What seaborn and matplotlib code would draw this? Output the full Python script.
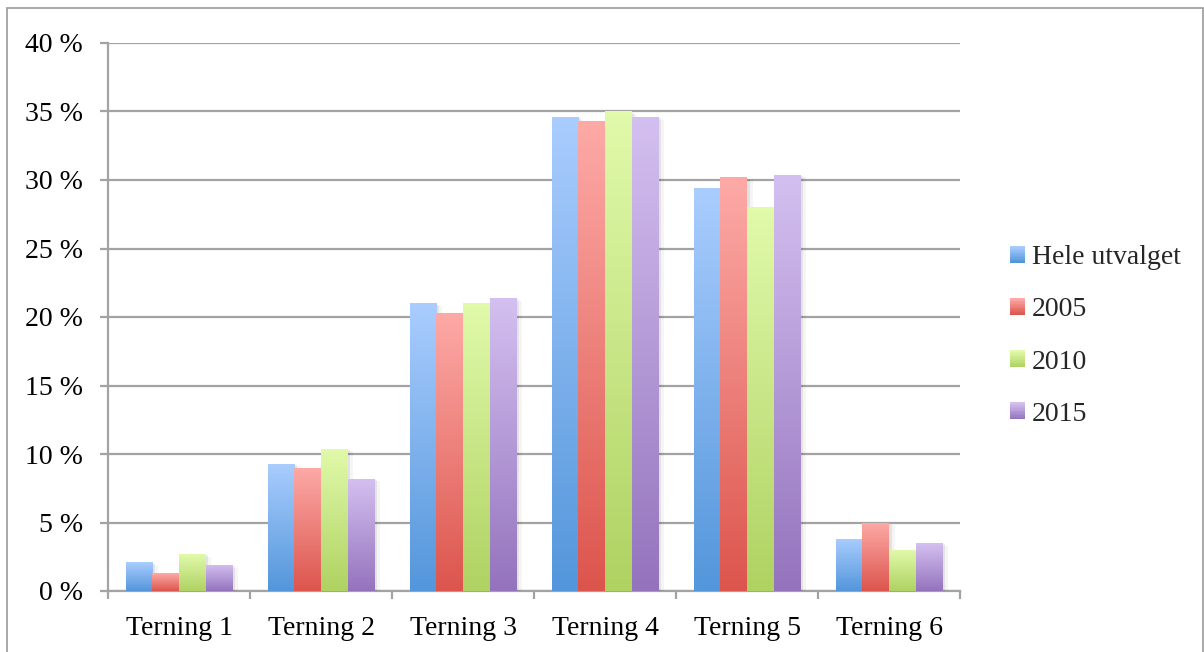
import numpy as np
import pandas as pd
import matplotlib
matplotlib.use("Agg")
import matplotlib.pyplot as plt
import matplotlib.patches as mpatches
import matplotlib.patheffects as pe
from matplotlib.colors import LinearSegmentedColormap
from matplotlib.legend_handler import HandlerBase
from matplotlib.ticker import FuncFormatter, FixedLocator
import seaborn as sns

# Share of grades per die face ("terning"), in percent
categories = ["Terning 1", "Terning 2", "Terning 3", "Terning 4", "Terning 5", "Terning 6"]
series = ["Hele utvalget", "2005", "2010", "2015"]
hele_utvalget = [2.1, 9.3, 21.0, 34.6, 29.4, 3.8]
aar_2005 = [1.3, 9.0, 20.3, 34.3, 30.2, 5.0]
aar_2010 = [2.7, 10.4, 21.0, 35.0, 28.0, 3.0]
aar_2015 = [1.9, 8.2, 21.4, 34.6, 30.4, 3.5]
y_ticks = [0, 5, 10, 15, 20, 25, 30, 35, 40]

# light (top) and dark (bottom) ends of each bar gradient
top_colors = ["#aacdfe", "#fdaaa7", "#e1faab", "#d4c0f0"]
bottom_colors = ["#5396db", "#dc554d", "#afd262", "#9473bd"]

values = [hele_utvalget, aar_2005, aar_2010, aar_2015]
df = pd.DataFrame({
    "Terning": np.repeat([categories], len(series), axis=0).ravel(),
    "Serie": np.repeat(series, len(categories)),
    "Andel": np.concatenate(values),
})

sns.set_theme(style="white")
plt.rcParams["font.family"] = ["Liberation Serif", "DejaVu Serif"]
FS = 20

fig = plt.figure(figsize=(12.04, 6.52), dpi=100)
ax = fig.add_axes([108 / 1204, 1 - 591 / 652, (960 - 108) / 1204, (591 - 43) / 652])

mid_colors = [tuple((np.array(matplotlib.colors.to_rgb(t)) + np.array(matplotlib.colors.to_rgb(b))) / 2)
              for t, b in zip(top_colors, bottom_colors)]
sns.barplot(data=df, x="Terning", y="Andel", hue="Serie", order=categories,
            hue_order=series, palette=mid_colors, width=0.75, saturation=1,
            linewidth=0, ax=ax, legend=False)

# Paint each bar with a vertical gradient and a soft drop shadow
grad = np.linspace(0, 1, 256).reshape(-1, 1)
for i, container in enumerate(ax.containers):
    cmap = LinearSegmentedColormap.from_list(f"g{i}", [bottom_colors[i], top_colors[i]])
    for bar in container:
        x0, y0 = bar.get_x(), bar.get_y()
        w, h = bar.get_width(), bar.get_height()
        bar.set_path_effects([pe.SimplePatchShadow(offset=(2, -1), shadow_rgbFace="#000000", alpha=0.07),
                              pe.SimplePatchShadow(offset=(4, -2), shadow_rgbFace="#000000", alpha=0.04),
                              pe.Normal()])
        bar.set_zorder(3)
        im = ax.imshow(grad, cmap=cmap, aspect="auto", origin="lower",
                       extent=[x0, x0 + w, y0, y0 + h], zorder=4, interpolation="bilinear")
        im.set_clip_path(bar)

ax.set_xlim(-0.5, len(categories) - 0.5)
ax.set_ylim(0, 40)
ax.set_yticks(y_ticks)
ax.yaxis.set_major_formatter(FuncFormatter(lambda v, _: f"{v:.0f} %"))
ax.set_xlabel("")
ax.set_ylabel("")

grid_color = "#a3a3a3"
ax.grid(axis="y", color=grid_color, linewidth=1.6, zorder=0)
ax.set_axisbelow(True)
for s in ["top", "right"]:
    ax.spines[s].set_visible(False)
for s in ["left", "bottom"]:
    ax.spines[s].set_color(grid_color)
    ax.spines[s].set_linewidth(1.6)

ax.tick_params(axis="y", which="major", direction="out", length=6, width=1.6, color=grid_color,
               pad=12, labelsize=FS, labelcolor="black", left=True)
ax.xaxis.set_minor_locator(FixedLocator(np.arange(-0.5, len(categories), 1.0)))
ax.tick_params(axis="x", which="major", length=0, pad=18, labelsize=FS, labelcolor="black")
ax.tick_params(axis="x", which="minor", direction="out", length=6, width=1.6, color=grid_color, bottom=True)


class GradientSquare(HandlerBase):
    def __init__(self, top, bottom):
        super().__init__()
        self.top, self.bottom = top, bottom

    def create_artists(self, legend, orig_handle, xdescent, ydescent, width, height, fontsize, trans):
        cmap = LinearSegmentedColormap.from_list("h", [self.bottom, self.top])
        n = 12
        arts = []
        for k in range(n):
            r = mpatches.Rectangle((-xdescent, -ydescent + height * k / n), width, height / n + 0.2,
                                   facecolor=cmap(k / (n - 1)), edgecolor="none", transform=trans)
            arts.append(r)
        return arts


handles = [mpatches.Rectangle((0, 0), 1, 1) for _ in series]
handler_map = {h: GradientSquare(t, b) for h, t, b in zip(handles, top_colors, bottom_colors)}
fig.legend(handles, series, handler_map=handler_map, loc="center left",
           bbox_to_anchor=(1010 / 1204, 1 - 336 / 652), frameon=False, fontsize=FS,
           handlelength=0.55, handleheight=0.55, handletextpad=0.25, labelspacing=0.98,
           borderpad=0, borderaxespad=0)

# Outer chart frame
fig.patches.append(mpatches.Rectangle((7 / 1204, -0.01), 1196 / 1204, 1.01 - 8 / 652,
                                      transform=fig.transFigure, fill=False,
                                      edgecolor="#9a9a9a", linewidth=1.2))

fig.savefig("out.png", dpi=100)
